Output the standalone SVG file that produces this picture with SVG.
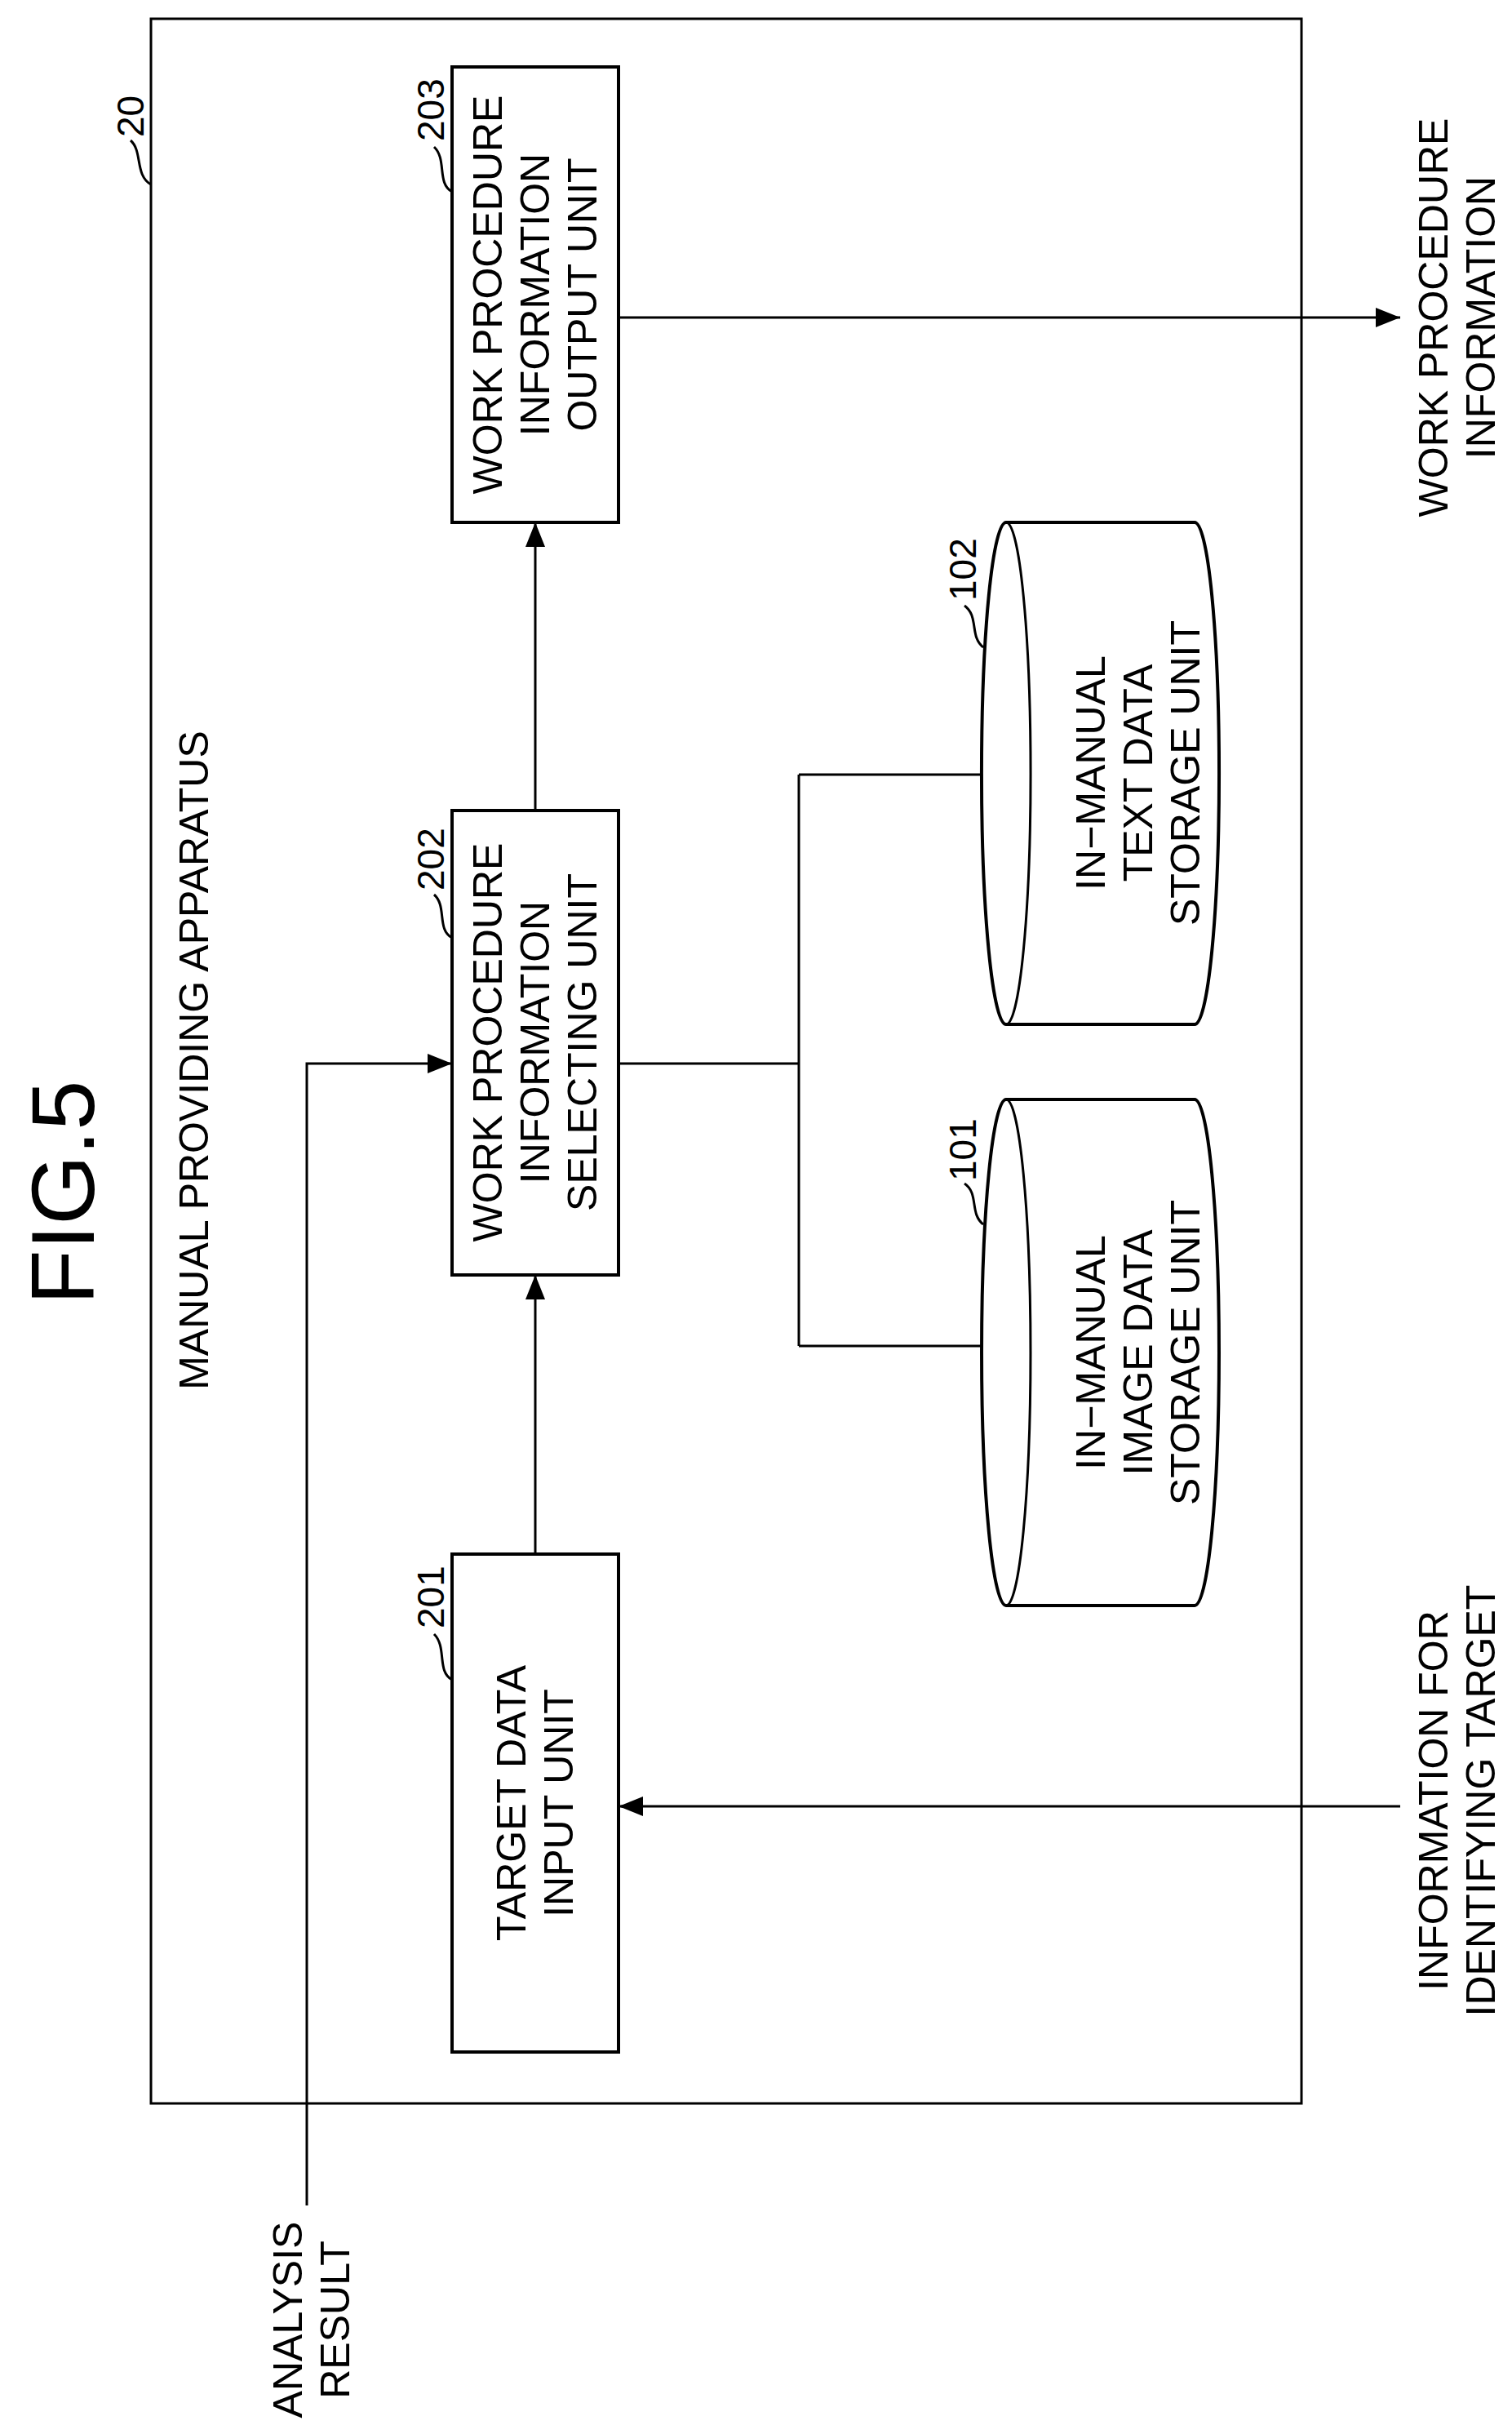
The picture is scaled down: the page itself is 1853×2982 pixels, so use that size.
<svg xmlns="http://www.w3.org/2000/svg" width="1853" height="2982" viewBox="0 0 1853 2982">
<style>
text{font-family:"Liberation Sans",Arial,sans-serif;font-size:50px;fill:#000;text-anchor:middle}
.n{font-size:46px;text-anchor:start}
.b{fill:#fff;stroke:#000;stroke-width:4}
.l{fill:none;stroke:#000;stroke-width:3}
</style>
<defs><marker id="a" viewBox="0 0 10 10" refX="10" refY="5" markerWidth="10" markerHeight="10" markerUnits="userSpaceOnUse" orient="auto"><path d="M0,0L10,5L0,10z" fill="#000"/></marker>
<marker id="A" viewBox="0 0 10 8" refX="10" refY="4" markerWidth="30" markerHeight="24" markerUnits="userSpaceOnUse" orient="auto"><path d="M0,0L10,4L0,8z" fill="#000"/></marker></defs>
<text transform="translate(115,1461) rotate(-90)" style="font-size:110px">FIG.5</text>
<g id="apparatus"><rect x="185" y="23" width="1410" height="2554" fill="none" stroke="#000" stroke-width="3"/>
<text transform="translate(255,1299) rotate(-90)">MANUAL PROVIDING APPARATUS</text>
<text class="n" transform="translate(176,168) rotate(-90)">20</text>
<path class="l" d="M185,226 C165,215 175,185 160,172"/></g>
<g id="n203"><rect class="b" x="554" y="82" width="204" height="558"/>
<text transform="translate(656,361) rotate(-90)"><tspan x="0" y="-41">WORK PROCEDURE</tspan><tspan x="0" y="17">INFORMATION</tspan><tspan x="0" y="75">OUTPUT UNIT</tspan></text>
<text class="n" transform="translate(544,173) rotate(-90)">203</text><path class="l" d="M554,235 C535,225 548,195 532,180"/></g>
<g id="n202"><rect class="b" x="554" y="993" width="204" height="569"/>
<text transform="translate(656,1277) rotate(-90)"><tspan x="0" y="-41">WORK PROCEDURE</tspan><tspan x="0" y="17">INFORMATION</tspan><tspan x="0" y="75">SELECTING UNIT</tspan></text>
<text class="n" transform="translate(544,1091) rotate(-90)">202</text><path class="l" d="M554,1149 C535,1139 548,1110 532,1096"/></g>
<g id="n201"><rect class="b" x="554" y="1904" width="204" height="610"/>
<text transform="translate(656,2209) rotate(-90)"><tspan x="0" y="-12">TARGET DATA</tspan><tspan x="0" y="46">INPUT UNIT</tspan></text>
<text class="n" transform="translate(544,1995) rotate(-90)">201</text><path class="l" d="M554,2058 C535,2048 548,2018 532,2002"/></g>
<g id="n102"><path class="b" d="M1233,640 L1464,640 A30,307 0 0 1 1464,1255 L1233,1255 A30,307 0 0 1 1233,640 Z"/><path class="l" d="M1233,640 A30,307 0 0 1 1233,1255"/>
<text transform="translate(1395,947) rotate(-90)"><tspan x="0" y="-41">IN−MANUAL</tspan><tspan x="0" y="17">TEXT DATA</tspan><tspan x="0" y="75">STORAGE UNIT</tspan></text>
<text class="n" transform="translate(1196,736) rotate(-90)">102</text><path class="l" d="M1205,793 C1188,780 1200,755 1182,742"/></g>
<g id="n101"><path class="b" d="M1233,1347 L1464,1347 A30,310 0 0 1 1464,1967 L1233,1967 A30,310 0 0 1 1233,1347 Z"/><path class="l" d="M1233,1347 A30,310 0 0 1 1233,1967"/>
<text transform="translate(1395,1657) rotate(-90)"><tspan x="0" y="-41">IN−MANUAL</tspan><tspan x="0" y="17">IMAGE DATA</tspan><tspan x="0" y="75">STORAGE UNIT</tspan></text>
<text class="n" transform="translate(1196,1447) rotate(-90)">101</text><path class="l" d="M1205,1500 C1188,1487 1200,1462 1182,1450"/></g>
<text transform="translate(1786,389) rotate(-90)"><tspan x="0" y="-12">WORK PROCEDURE</tspan><tspan x="0" y="46">INFORMATION</tspan></text>
<text transform="translate(1786,2206) rotate(-90)"><tspan x="0" y="-12">INFORMATION FOR</tspan><tspan x="0" y="46">IDENTIFYING TARGET</tspan></text>
<text transform="translate(382,2842) rotate(-90)"><tspan x="0" y="-12">ANALYSIS</tspan><tspan x="0" y="46">RESULT</tspan></text>
<g id="connectors" class="l">
<path class="l" d="M758,389 H1716" marker-end="url(#A)"/>
<path class="l" d="M656,993 V640" marker-end="url(#A)"/>
<path class="l" d="M656,1904 V1562" marker-end="url(#A)"/>
<path class="l" d="M1716,2213 H758" marker-end="url(#A)"/>
<path class="l" d="M376,2702 V1303 H554" marker-end="url(#A)"/>
<path class="l" d="M758,1303 H979 M979,949 V1649 M979,949 H1203 M979,1649 H1203"/>
</g>
</svg>
